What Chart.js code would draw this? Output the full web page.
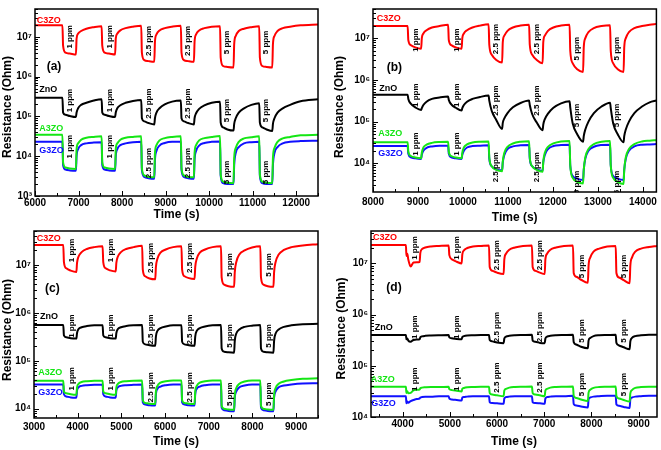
<!DOCTYPE html>
<html><head><meta charset="utf-8">
<script src="https://cdn.jsdelivr.net/npm/chart.js@4.4.1/dist/chart.umd.min.js"></script>
<style>
html,body{margin:0;padding:0;background:#fff;}
#wrap{position:relative;width:661px;height:450px;overflow:hidden;background:#fff;}
.p{position:absolute;}
canvas{display:block;}
</style></head>
<body><div id="wrap">
<div class="p" style="left:0;top:0"><canvas id="ca" width="330" height="222"></canvas></div>
<div class="p" style="left:330px;top:0"><canvas id="cb" width="331" height="225"></canvas></div>
<div class="p" style="left:0;top:222px"><canvas id="cc" width="330" height="228"></canvas></div>
<div class="p" style="left:330px;top:222px"><canvas id="cd" width="331" height="228"></canvas></div>
</div>
<script>
// ---------- DATA ----------
const seriesNames = ['C3ZO', 'ZnO', 'A3ZO', 'G3ZO'];
const ppmText = ['1 ppm', '1 ppm', '2.5 ppm', '2.5 ppm', '5 ppm', '5 ppm'];
const yTickDecades = [3, 4, 5, 6, 7];
const xTicksA = [6000, 7000, 8000, 9000, 10000, 11000, 12000];
const xTicksB = [8000, 9000, 10000, 11000, 12000, 13000, 14000];
const xTicksC = [3000, 4000, 5000, 6000, 7000, 8000, 9000];
const xTicksD = [4000, 5000, 6000, 7000, 8000, 9000];

// Panel (a)
const timeA = [6000,
 6630,6645,6700,6800,6940,6955,6990,7060,7180,7350,
 7530,7545,7600,7700,7840,7855,7890,7960,8080,8250,
 8440,8455,8510,8610,8740,8755,8790,8860,8980,9150,
 9350,9365,9420,9520,9650,9665,9700,9770,9890,10060,
 10250,10265,10320,10420,10560,10575,10610,10680,10800,10970,
 11150,11165,11220,11320,11450,11465,11500,11570,11690,11860,
 12100,12500];
const c3zoA = [1.95e7,
 1.95e7,6.0e6,4.0e6,3.8e6,3.6e6,9.0e6,1.2e7,1.4e7,1.6e7,1.75e7,
 1.85e7,6.0e6,4.0e6,3.8e6,3.6e6,9.0e6,1.2e7,1.45e7,1.65e7,1.8e7,
 1.9e7,4.0e6,2.6e6,2.45e6,2.35e6,7.5e6,1.15e7,1.45e7,1.65e7,1.8e7,
 1.9e7,4.0e6,2.6e6,2.45e6,2.35e6,7.5e6,1.15e7,1.45e7,1.65e7,1.8e7,
 1.85e7,3.0e6,1.85e6,1.75e6,1.7e6,6.5e6,1.05e7,1.4e7,1.6e7,1.75e7,
 1.85e7,3.0e6,1.85e6,1.75e6,1.7e6,6.5e6,1.05e7,1.4e7,1.65e7,1.8e7,
 1.95e7,2.05e7];
const znoA = [2.95e5,
 2.95e5,1.25e5,1.1e5,1.02e5,9.6e4,1.25e5,1.6e5,1.95e5,2.2e5,2.5e5,
 2.7e5,1.25e5,1.1e5,1.02e5,9.6e4,1.25e5,1.6e5,1.9e5,2.2e5,2.45e5,
 2.6e5,9.0e4,7.5e4,6.8e4,6.3e4,9.0e4,1.25e5,1.6e5,2.0e5,2.35e5,
 2.5e5,9.0e4,7.5e4,6.8e4,6.3e4,9.0e4,1.2e5,1.55e5,1.9e5,2.2e5,
 2.35e5,7.0e4,5.3e4,4.7e4,4.4e4,6.5e4,9.0e4,1.25e5,1.6e5,1.95e5,
 2.15e5,7.0e4,5.3e4,4.7e4,4.3e4,6.5e4,9.0e4,1.25e5,1.6e5,1.95e5,
 2.4e5,2.7e5];
const a3zoA = [3.45e4,
 3.45e4,7.0e3,5.2e3,4.9e3,4.8e3,1.5e4,2.1e4,2.6e4,2.9e4,3.05e4,
 3.15e4,7.0e3,5.2e3,4.9e3,4.8e3,1.5e4,2.1e4,2.6e4,2.9e4,3.05e4,
 3.15e4,5.0e3,3.3e3,3.0e3,2.95e3,1.2e4,1.9e4,2.5e4,2.85e4,3.05e4,
 3.15e4,5.0e3,3.3e3,3.0e3,2.95e3,1.2e4,1.9e4,2.5e4,2.85e4,3.05e4,
 3.2e4,3.5e3,2.3e3,2.15e3,2.1e3,9.0e3,1.6e4,2.3e4,2.8e4,3.0e4,
 3.15e4,3.5e3,2.3e3,2.15e3,2.1e3,9.0e3,1.6e4,2.3e4,2.8e4,3.05e4,
 3.35e4,3.45e4];
const g3zoA = [2.3e4,
 2.3e4,6.0e3,4.6e3,4.4e3,4.3e3,1.0e4,1.5e4,1.9e4,2.1e4,2.2e4,
 2.25e4,6.0e3,4.6e3,4.4e3,4.3e3,1.0e4,1.5e4,1.9e4,2.1e4,2.25e4,
 2.3e4,4.5e3,3.0e3,2.8e3,2.7e3,8.0e3,1.35e4,1.85e4,2.15e4,2.3e4,
 2.3e4,4.5e3,3.0e3,2.8e3,2.7e3,8.0e3,1.35e4,1.85e4,2.15e4,2.3e4,
 2.35e4,3.2e3,2.1e3,2.0e3,2.0e3,6.0e3,1.2e4,1.7e4,2.1e4,2.25e4,
 2.3e4,3.2e3,2.1e3,2.0e3,2.0e3,6.0e3,1.2e4,1.7e4,2.1e4,2.3e4,
 2.4e4,2.45e4];

// Panel (b)
const timeB = [8000,
 8770,8785,8840,8940,9070,9085,9120,9190,9310,9480,
 9670,9685,9740,9840,9970,9985,10020,10090,10210,10380,
 10570,10585,10640,10740,10870,10885,10920,10990,11110,11280,
 11470,11485,11540,11640,11770,11785,11820,11890,12010,12180,
 12370,12385,12440,12540,12670,12685,12720,12790,12910,13080,
 13270,13285,13340,13440,13570,13585,13620,13690,13810,13980,
 14150,14300];
const c3zoB = [1.95e7,
 1.95e7,9.0e6,6.8e6,6.0e6,5.6e6,1.0e7,1.3e7,1.55e7,1.8e7,1.95e7,
 2.1e7,9.0e6,6.8e6,6.0e6,5.6e6,1.0e7,1.3e7,1.55e7,1.8e7,2.0e7,
 2.15e7,7.0e6,4.0e6,3.0e6,2.6e6,8.0e6,1.15e7,1.5e7,1.8e7,2.0e7,
 2.1e7,7.0e6,4.0e6,3.0e6,2.5e6,8.0e6,1.15e7,1.5e7,1.8e7,2.0e7,
 2.1e7,5.0e6,2.5e6,1.8e6,1.55e6,6.0e6,1.0e7,1.4e7,1.75e7,1.95e7,
 2.05e7,5.0e6,2.5e6,1.8e6,1.55e6,6.0e6,1.0e7,1.4e7,1.75e7,1.95e7,
 2.1e7,2.2e7];
const znoB = [4.4e5,
 4.4e5,3.5e5,2.7e5,2.2e5,1.9e5,2.1e5,2.5e5,3.0e5,3.5e5,3.8e5,
 4.0e5,3.3e5,2.6e5,2.15e5,1.85e5,2.1e5,2.5e5,3.0e5,3.5e5,3.9e5,
 4.2e5,3.2e5,1.8e5,1.1e5,6.7e4,9.3e4,1.2e5,1.6e5,2.2e5,2.8e5,
 3.2e5,2.5e5,1.5e5,9.5e4,6.2e4,8.5e4,1.15e5,1.55e5,2.15e5,2.75e5,
 3.1e5,2.2e5,9.0e4,5.0e4,3.3e4,4.5e4,6.5e4,1.0e5,1.6e5,2.3e5,
 2.85e5,2.1e5,9.0e4,5.0e4,3.2e4,4.5e4,6.5e4,1.0e5,1.6e5,2.3e5,
 2.9e5,3.2e5];
const a3zoB = [3.2e4,
 3.2e4,1.9e4,1.5e4,1.38e4,1.32e4,1.8e4,2.4e4,2.8e4,3.1e4,3.25e4,
 3.3e4,1.9e4,1.5e4,1.38e4,1.32e4,1.8e4,2.4e4,2.85e4,3.15e4,3.3e4,
 3.35e4,1.4e4,8.5e3,7.0e3,6.5e3,1.1e4,1.8e4,2.5e4,3.0e4,3.3e4,
 3.4e4,1.4e4,8.5e3,7.0e3,6.3e3,1.1e4,1.8e4,2.5e4,3.0e4,3.35e4,
 3.45e4,9.0e3,4.5e3,3.6e3,3.3e3,7.0e3,1.4e4,2.2e4,2.9e4,3.3e4,
 3.45e4,9.0e3,4.5e3,3.6e3,3.2e3,7.0e3,1.4e4,2.2e4,2.9e4,3.35e4,
 3.5e4,3.6e4];
const g3zoB = [2.6e4,
 2.6e4,1.7e4,1.4e4,1.32e4,1.28e4,1.6e4,2.0e4,2.35e4,2.55e4,2.65e4,
 2.65e4,1.7e4,1.4e4,1.32e4,1.28e4,1.6e4,2.0e4,2.4e4,2.6e4,2.65e4,
 2.7e4,1.3e4,8.5e3,7.2e3,6.8e3,1.05e4,1.6e4,2.2e4,2.55e4,2.7e4,
 2.75e4,1.3e4,8.5e3,7.2e3,6.6e3,1.05e4,1.6e4,2.2e4,2.6e4,2.75e4,
 2.8e4,9.0e3,5.0e3,4.3e3,4.0e3,7.0e3,1.3e4,2.0e4,2.5e4,2.75e4,
 2.8e4,9.0e3,5.0e3,4.3e3,4.0e3,7.0e3,1.3e4,2.0e4,2.55e4,2.8e4,
 2.85e4,2.9e4];

// Panel (c)
const timeC = [3000,
 3670,3685,3740,3840,3970,3985,4020,4090,4210,4380,
 4570,4585,4640,4740,4870,4885,4920,4990,5110,5280,
 5475,5490,5545,5645,5775,5790,5825,5895,6015,6185,
 6375,6390,6445,6545,6675,6690,6725,6795,6915,7085,
 7280,7295,7350,7450,7580,7595,7630,7700,7820,7990,
 8180,8195,8250,8350,8480,8495,8530,8600,8720,8890,
 9150,9500];
const c3zoC = [2.6e7,
 2.6e7,1.15e7,8.5e6,7.6e6,7.1e6,1.1e7,1.5e7,1.85e7,2.15e7,2.35e7,
 2.45e7,1.15e7,8.5e6,7.7e6,7.3e6,1.1e7,1.5e7,1.85e7,2.15e7,2.35e7,
 2.5e7,8.0e6,5.8e6,5.2e6,5.0e6,9.0e6,1.35e7,1.8e7,2.1e7,2.35e7,
 2.45e7,8.0e6,5.8e6,5.3e6,5.1e6,9.0e6,1.35e7,1.8e7,2.1e7,2.35e7,
 2.45e7,5.5e6,3.9e6,3.6e6,3.5e6,7.0e6,1.15e7,1.65e7,2.0e7,2.3e7,
 2.45e7,5.5e6,3.9e6,3.6e6,3.5e6,7.0e6,1.15e7,1.65e7,2.05e7,2.35e7,
 2.55e7,2.7e7];
const znoC = [5.6e5,
 5.6e5,3.4e5,3.1e5,2.95e5,2.9e5,3.8e5,4.6e5,5.0e5,5.3e5,5.5e5,
 5.5e5,3.4e5,3.1e5,2.95e5,2.9e5,3.8e5,4.6e5,5.0e5,5.3e5,5.5e5,
 5.6e5,2.5e5,2.2e5,2.1e5,2.05e5,3.2e5,4.2e5,4.8e5,5.2e5,5.5e5,
 5.5e5,2.5e5,2.2e5,2.1e5,2.05e5,3.2e5,4.2e5,4.8e5,5.2e5,5.5e5,
 5.6e5,1.8e5,1.55e5,1.5e5,1.47e5,2.6e5,3.7e5,4.5e5,5.1e5,5.4e5,
 5.6e5,1.8e5,1.55e5,1.5e5,1.47e5,2.6e5,3.7e5,4.5e5,5.1e5,5.5e5,
 5.8e5,5.9e5];
const a3zoC = [3.85e4,
 3.85e4,2.3e4,2.1e4,2.0e4,1.95e4,2.8e4,3.3e4,3.6e4,3.75e4,3.85e4,
 3.85e4,2.3e4,2.1e4,2.0e4,1.95e4,2.8e4,3.3e4,3.6e4,3.75e4,3.85e4,
 3.9e4,1.5e4,1.32e4,1.27e4,1.25e4,2.3e4,3.0e4,3.5e4,3.75e4,3.9e4,
 3.9e4,1.5e4,1.32e4,1.27e4,1.25e4,2.3e4,3.0e4,3.5e4,3.75e4,3.9e4,
 3.9e4,1.15e4,1.0e4,9.6e3,9.5e3,1.9e4,2.7e4,3.3e4,3.7e4,3.9e4,
 3.9e4,1.15e4,1.0e4,9.6e3,9.5e3,1.9e4,2.7e4,3.3e4,3.7e4,3.95e4,
 4.2e4,4.3e4];
const g3zoC = [3.2e4,
 3.2e4,2.0e4,1.8e4,1.72e4,1.7e4,2.4e4,2.8e4,3.0e4,3.1e4,3.15e4,
 3.15e4,2.0e4,1.8e4,1.72e4,1.7e4,2.4e4,2.8e4,3.0e4,3.1e4,3.15e4,
 3.2e4,1.35e4,1.22e4,1.18e4,1.17e4,2.0e4,2.6e4,2.9e4,3.1e4,3.2e4,
 3.2e4,1.35e4,1.22e4,1.18e4,1.17e4,2.0e4,2.6e4,2.9e4,3.1e4,3.2e4,
 3.2e4,1.05e4,9.3e3,9.0e3,8.9e3,1.7e4,2.3e4,2.8e4,3.05e4,3.2e4,
 3.2e4,1.05e4,9.3e3,9.0e3,8.9e3,1.7e4,2.3e4,2.8e4,3.05e4,3.2e4,
 3.35e4,3.4e4];

// Panel (d)
const timeD = [3330,
 4070,4080,4100,4120,4170,4230,4300,4360,4375,4410,4480,4600,4770,
 4975,4990,5045,5145,5250,5265,5300,5370,5490,5660,
 5830,5845,5900,6000,6140,6155,6190,6260,6380,6550,
 6740,6755,6810,6910,7010,7025,7060,7130,7250,7420,
 7610,7625,7680,7780,7925,7940,7975,8045,8165,8335,
 8515,8530,8585,8685,8810,8825,8860,8930,9050,9220,
 9390];
const c3zoD = [2.3e7,
 2.3e7,1.4e7,1.55e7,1.2e7,8.7e6,1.04e7,1.05e7,1.06e7,1.6e7,1.9e7,2.05e7,2.15e7,2.2e7,
 2.25e7,1.45e7,1.2e7,1.08e7,1.0e7,1.5e7,1.8e7,2.0e7,2.15e7,2.2e7,
 2.25e7,8.5e6,7.2e6,6.6e6,6.2e6,1.2e7,1.55e7,1.85e7,2.05e7,2.2e7,
 2.25e7,8.5e6,7.2e6,6.6e6,6.2e6,1.2e7,1.55e7,1.85e7,2.05e7,2.2e7,
 2.25e7,6.5e6,5.5e6,4.8e6,4.2e6,9.0e6,1.3e7,1.7e7,1.95e7,2.15e7,
 2.2e7,6.5e6,5.3e6,4.7e6,4.1e6,9.0e6,1.3e7,1.7e7,1.95e7,2.1e7,
 2.2e7];
const znoD = [4.0e5,
 4.0e5,3.3e5,3.4e5,3.1e5,2.95e5,3.2e5,3.25e5,3.3e5,3.6e5,3.75e5,3.85e5,3.9e5,3.95e5,
 4.0e5,3.6e5,3.45e5,3.35e5,3.3e5,3.65e5,3.8e5,3.9e5,3.95e5,4.0e5,
 4.0e5,3.2e5,3.0e5,2.85e5,2.75e5,3.4e5,3.7e5,3.85e5,3.95e5,4.0e5,
 4.05e5,3.1e5,2.95e5,2.8e5,2.75e5,3.4e5,3.7e5,3.85e5,3.95e5,4.0e5,
 4.05e5,2.9e5,2.6e5,2.35e5,2.2e5,3.1e5,3.5e5,3.8e5,3.95e5,4.0e5,
 4.05e5,2.8e5,2.5e5,2.3e5,2.1e5,3.0e5,3.5e5,3.8e5,3.95e5,4.05e5,
 4.05e5];
const a3zoD = [3.9e4,
 3.9e4,2.95e4,3.2e4,2.9e4,2.95e4,3.3e4,3.4e4,3.45e4,3.65e4,3.75e4,3.8e4,3.85e4,3.85e4,
 3.9e4,3.5e4,3.35e4,3.25e4,3.15e4,3.55e4,3.7e4,3.8e4,3.85e4,3.9e4,
 3.9e4,2.95e4,2.75e4,2.65e4,2.55e4,3.3e4,3.55e4,3.75e4,3.85e4,3.9e4,
 3.95e4,2.95e4,2.75e4,2.65e4,2.55e4,3.3e4,3.55e4,3.75e4,3.85e4,3.9e4,
 3.95e4,2.6e4,2.35e4,2.2e4,2.05e4,3.0e4,3.4e4,3.7e4,3.85e4,3.9e4,
 3.95e4,2.55e4,2.3e4,2.15e4,2.0e4,2.9e4,3.35e4,3.7e4,3.85e4,3.9e4,
 3.9e4];
const g3zoD = [2.55e4,
 2.55e4,1.85e4,2.0e4,1.9e4,2.05e4,2.15e4,2.25e4,2.3e4,2.4e4,2.45e4,2.5e4,2.5e4,2.55e4,
 2.55e4,2.3e4,2.2e4,2.15e4,2.1e4,2.4e4,2.45e4,2.5e4,2.55e4,2.55e4,
 2.55e4,1.95e4,1.88e4,1.85e4,1.82e4,2.3e4,2.45e4,2.5e4,2.55e4,2.55e4,
 2.55e4,1.95e4,1.88e4,1.85e4,1.82e4,2.3e4,2.45e4,2.5e4,2.55e4,2.55e4,
 2.6e4,1.8e4,1.68e4,1.6e4,1.53e4,2.2e4,2.4e4,2.5e4,2.55e4,2.6e4,
 2.6e4,1.75e4,1.65e4,1.57e4,1.5e4,2.2e4,2.4e4,2.5e4,2.55e4,2.6e4,
 2.6e4];

// ---------- ANNOTATION ANCHORS (data coordinates) ----------
const labTA = [6800, 7715, 8610, 9505, 10400, 11310];
const labYA = [[1e7,1e7,7.9e6,7.9e6,7.2e6,7.2e6],[2.5e5,2.5e5,2.1e5,2.1e5,1.4e5,1.4e5],[1.74e4,1.74e4,6.7e3,6.7e3,3.9e3,3.9e3]];
const nameTA = [6039, 6098, 6098, 6098], nameYA = [2.6e7, 4.7e5, 5.0e4, 1.4e4], tagA = [6268, 1.78e6];

const labTB = [8956, 9860, 10733, 11644, 12533, 13422];
const labYB = [[9e6,9e6,9.5e6,9.5e6,5.6e6,5.6e6],[4.3e5,4.3e5,3.2e5,3.2e5,1.4e5,1.4e5],[2.9e4,2.9e4,8.1e3,8.1e3,3.5e3,3.5e3]];
const nameTB = [8082, 8140, 8118, 8118], nameYB = [2.9e7, 6.3e5, 5.1e4, 1.7e4], tagB = [8304, 2.0e6];

const labTC = [3860, 4757, 5662, 6559, 7472, 8369];
const labYC = [[2e7,2e7,1.4e7,1.4e7,1e7,1e7],[5.3e5,5.3e5,4.5e5,4.5e5,3.3e5,3.3e5],[4.2e4,4.2e4,2.8e4,2.8e4,2.0e4,2.0e4]];
const nameTC = [3061, 3137, 3098, 3098], nameYC = [3.5e7, 8.5e5, 5.6e4, 2.2e4], tagC = [3251, 3.2e6];

const labTD = [4254, 5150, 5998, 6917, 7786, 8682];
const labYD = [[2e7,2e7,1.45e7,1.45e7,8.7e6,8.7e6],[5.7e5,5.7e5,5.7e5,5.7e5,4.8e5,4.8e5],[5.5e4,5.5e4,5.9e4,5.9e4,4.3e4,4.3e4]];
const nameTD = [3371, 3407, 3325, 3335], nameYD = [3.2e7, 5.5e5, 5.5e4, 1.8e4], tagD = [3655, 3.4e6];

// ---------- STYLE / LAYOUT ----------
const FONT = '"Liberation Sans", Arial, sans-serif';
const COLORS = ['#ff0000', '#000000', '#14e614', '#1010ff'];
const SUP = {3:'\u00B3', 4:'\u2074', 5:'\u2075', 6:'\u2076', 7:'\u2077'};

const panels = [
  {id:'ca', tag:'(a)', t:timeA, s:[c3zoA, znoA, a3zoA, g3zoA], xr:[6000,12500], yr:[1e3,5e7], xt:xTicksA,
   pad:{top:2,right:12,bottom:0}, yw:35, xh:26, tickPad:1, titlePad:0, yt:[8,107],
   labT:labTA, labY:labYA, nameT:nameTA, nameY:nameYA, tagPos:tagA},
  {id:'cb', tag:'(b)', t:timeB, s:[c3zoB, znoB, a3zoB, g3zoB], xr:[8000,14300], yr:[2060,5e7], xt:xTicksB,
   pad:{top:2,right:4,bottom:0}, yw:43, xh:33, tickPad:4, titlePad:0, yt:[10,107],
   labT:labTB, labY:labYB, nameT:nameTB, nameY:nameYB, tagPos:tagB},
  {id:'cc', tag:'(c)', t:timeC, s:[c3zoC, znoC, a3zoC, g3zoC], xr:[3000,9500], yr:[6400,5.1e7], xt:xTicksC,
   pad:{top:1,right:12,bottom:0}, yw:34, xh:32, tickPad:3, titlePad:1, yt:[7.5,108],
   labT:labTC, labY:labYC, nameT:nameTC, nameY:nameYC, tagPos:tagC},
  {id:'cd', tag:'(d)', t:timeD, s:[c3zoD, znoD, a3zoD, g3zoD], xr:[3330,9390], yr:[1e4,4.3e7], xt:xTicksD,
   pad:{top:1,right:4,bottom:0}, yw:41, xh:33, tickPad:1, titlePad:1, yt:[11.5,106.5],
   labT:labTD, labY:labYD, nameT:nameTD, nameY:nameYD, tagPos:tagD}
];

function makeDecor(p) {
  return {
    id: 'decor',
    afterDraw(chart) {
      const {ctx, chartArea: a, scales: {x, y}} = chart;
      ctx.save();
      ctx.strokeStyle = '#000';
      ctx.lineWidth = 1;
      ctx.beginPath();
      for (let v = Math.ceil(x.min / 500) * 500; v <= x.max; v += 500) {
        const px = Math.round(x.getPixelForValue(v)) + 0.5;
        const len = v % 1000 === 0 ? 5 : 3;
        ctx.moveTo(px, a.bottom); ctx.lineTo(px, a.bottom - len);
      }
      const d0 = Math.floor(Math.log10(y.min)), d1 = Math.ceil(Math.log10(y.max));
      for (let d = d0; d <= d1; d++) {
        for (let k = 1; k < 10; k++) {
          const v = k * Math.pow(10, d);
          if (v < y.min || v > y.max) continue;
          const py = Math.round(y.getPixelForValue(v)) + 0.5;
          const len = k === 1 ? 5 : 3;
          ctx.moveTo(a.left, py); ctx.lineTo(a.left + len, py);
        }
      }
      ctx.stroke();
      ctx.lineWidth = 1.5;
      ctx.strokeRect(a.left, a.top, a.right - a.left, a.bottom - a.top);

      // in-plot texts
      ctx.save();
      ctx.beginPath(); ctx.rect(a.left + 1, a.top, a.right - a.left - 1, a.bottom - a.top); ctx.clip();
      ctx.fillStyle = '#000';
      ctx.font = 'bold 8px ' + FONT;
      ctx.textAlign = 'center'; ctx.textBaseline = 'middle';
      p.labY.forEach(row => row.forEach((yy, i) => {
        const px = x.getPixelForValue(p.labT[i]), py = y.getPixelForValue(yy);
        ctx.save(); ctx.translate(px, py); ctx.rotate(-Math.PI / 2);
        ctx.fillText(ppmText[i], 0, 0); ctx.restore();
      }));
      ctx.font = 'bold 9px ' + FONT;
      ctx.textAlign = 'left';
      seriesNames.forEach((n, i) => {
        ctx.fillStyle = COLORS[i];
        ctx.fillText(n, x.getPixelForValue(p.nameT[i]), y.getPixelForValue(p.nameY[i]));
      });
      ctx.fillStyle = '#000';
      ctx.font = 'bold 12px ' + FONT;
      ctx.fillText(p.tag, x.getPixelForValue(p.tagPos[0]), y.getPixelForValue(p.tagPos[1]));
      ctx.restore();

      // y axis title
      ctx.fillStyle = '#000';
      ctx.font = 'bold 12px ' + FONT;
      ctx.textAlign = 'center'; ctx.textBaseline = 'middle';
      ctx.translate(p.yt[0], p.yt[1]); ctx.rotate(-Math.PI / 2);
      ctx.fillText('Resistance (Ohm)', 0, 0);
      ctx.restore();
    }
  };
}

panels.forEach(p => {
  const datasets = p.s.map((vals, i) => ({
    label: seriesNames[i],
    data: p.t.map((t, j) => ({x: t, y: vals[j]})),
    borderColor: COLORS[i],
    borderWidth: 2,
    pointRadius: 0,
    fill: false,
    cubicInterpolationMode: 'monotone',
    tension: 0.4
  }));
  new Chart(document.getElementById(p.id), {
    type: 'line',
    data: {datasets},
    options: {
      responsive: false, animation: false, devicePixelRatio: 1,
      layout: {padding: {left: 0, top: p.pad.top, right: p.pad.right, bottom: p.pad.bottom}},
      plugins: {legend: {display: false}, tooltip: {enabled: false}},
      scales: {
        x: {
          type: 'linear', min: p.xr[0], max: p.xr[1],
          grid: {display: false, drawTicks: false}, border: {display: false},
          ticks: {autoSkip: false, maxRotation: 0, minRotation: 0,
                  padding: p.tickPad, color: '#000',
                  font: {family: FONT, weight: 'bold', size: 10},
                  callback: v => String(v)},
          afterBuildTicks: s => { s.ticks = p.xt.map(v => ({value: v})); },
          title: {display: true, text: 'Time (s)', color: '#000',
                  font: {family: FONT, weight: 'bold', size: 12},
                  padding: {top: 0, bottom: p.titlePad}},
          afterFit: s => { s.height = p.xh; }
        },
        y: {
          type: 'logarithmic', min: p.yr[0], max: p.yr[1],
          grid: {display: false, drawTicks: false}, border: {display: false},
          ticks: {autoSkip: false, padding: 3, color: '#000',
                  font: {family: FONT, weight: 'bold', size: 10},
                  callback: v => {
                    const l = Math.log10(v), r = Math.round(l);
                    return (Math.abs(l - r) < 1e-6 && yTickDecades.includes(r)) ? '10' + SUP[r] : '';
                  }},
          afterFit: s => { s.width = p.yw; }
        }
      }
    },
    plugins: [makeDecor(p)]
  });
});
</script>
</body></html>
